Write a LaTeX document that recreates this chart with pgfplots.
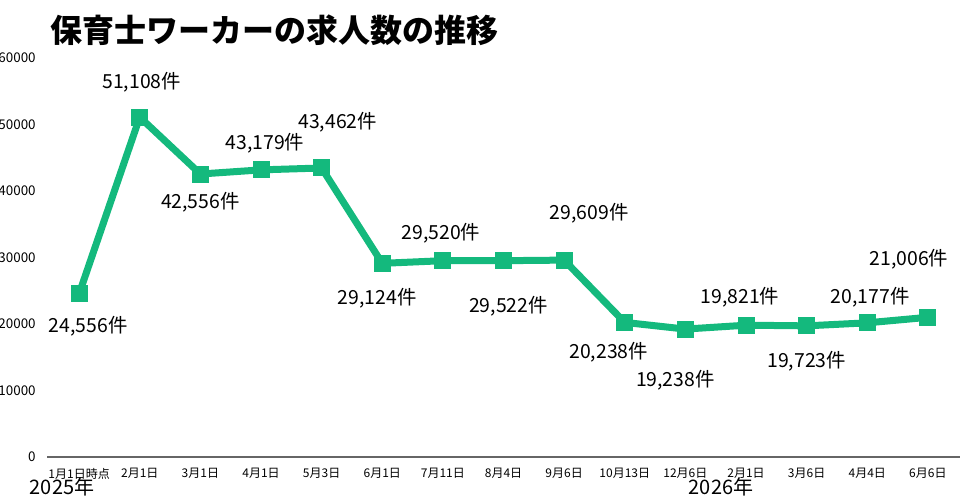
\documentclass[border=0pt]{standalone}
\usepackage{fontspec}
\setmainfont{Noto Sans CJK JP}
\usepackage{pgfplots}
\pgfplotsset{compat=1.18}
\definecolor{lg}{RGB}{20,185,125}
\pgfplotstableread{
x y
0 24556
1 51108
2 42556
3 43179
4 43462
5 29124
6 29520
7 29522
8 29609
9 20238
10 19238
11 19821
12 19723
13 20177
14 21006
}\datatab
\begin{document}
\begin{tikzpicture}[x=1pt,y=1pt]
\useasboundingbox (0,0) rectangle (480,250);
\node[anchor=west,font=\fontsize{16}{18}\selectfont\bfseries] at (21.5,235) {保育士ワーカーの求人数の推移};
\begin{axis}[
  at={(23.5pt,21.5pt)}, anchor=south west,
  scale only axis, width=456.5pt, height=199.5pt,
  xmin=-0.53, xmax=14.53, ymin=0, ymax=60000,
  clip=false,
  axis x line=bottom, axis y line=left,
  x axis line style={draw=gray!80!black, line width=0.6pt, -},
  y axis line style={draw=none},
  tick style={draw=none},
  /pgf/number format/assume math mode=true,
  scaled y ticks=false,
  ytick={0,10000,20000,30000,40000,50000,60000},
  yticklabel style={font=\fontsize{6.7}{7}\selectfont, /pgf/number format/1000 sep={}},
  xtick={0,...,14},
  xticklabels={1月1日時点,2月1日,3月1日,4月1日,5月3日,6月1日,7月11日,8月4日,9月6日,10月13日,12月6日,2月1日,3月6日,4月4日,6月6日},
  xticklabel style={font=\fontsize{6}{7}\selectfont},
]
\addplot[lg, line width=3.5pt, mark=square*, mark size=4pt, mark options={fill=lg, draw=lg, line width=0pt}] table[x=x,y=y] {\datatab};
\tikzset{dl/.style={font=\fontsize{9.7}{10}\selectfont}}
\node[dl] at (axis cs:0,24556) [xshift=4.5pt,yshift=-16.5pt] {24,556件};
\node[dl] at (axis cs:1,51108) [xshift=1pt,yshift=17.5pt] {51,108件};
\node[dl] at (axis cs:2,42556) [xshift=0pt,yshift=-14pt] {42,556件};
\node[dl] at (axis cs:3,43179) [xshift=2pt,yshift=13.5pt] {43,179件};
\node[dl] at (axis cs:4,43462) [xshift=8pt,yshift=23pt] {43,462件};
\node[dl] at (axis cs:5,29124) [xshift=-2.5pt,yshift=-17.5pt] {29,124件};
\node[dl] at (axis cs:6,29520) [xshift=-1pt,yshift=13.5pt] {29,520件};
\node[dl] at (axis cs:7,29522) [xshift=2.5pt,yshift=-23pt] {29,522件};
\node[dl] at (axis cs:8,29609) [xshift=12.5pt,yshift=23.5pt] {29,609件};
\node[dl] at (axis cs:9,20238) [xshift=-8pt,yshift=-15pt] {20,238件};
\node[dl] at (axis cs:10,19238) [xshift=-5pt,yshift=-25.5pt] {19,238件};
\node[dl] at (axis cs:11,19821) [xshift=-3pt,yshift=14pt] {19,821件};
\node[dl] at (axis cs:12,19723) [xshift=0pt,yshift=-17.5pt] {19,723件};
\node[dl] at (axis cs:13,20177) [xshift=1.5pt,yshift=13pt] {20,177件};
\node[dl] at (axis cs:14,21006) [xshift=-9.5pt,yshift=29pt] {21,006件};
\end{axis}
\node[font=\fontsize{10}{11}\selectfont] at (31,6.5) {2025年};
\node[font=\fontsize{10}{11}\selectfont] at (360.5,6.5) {2026年};
\end{tikzpicture}
\end{document}
